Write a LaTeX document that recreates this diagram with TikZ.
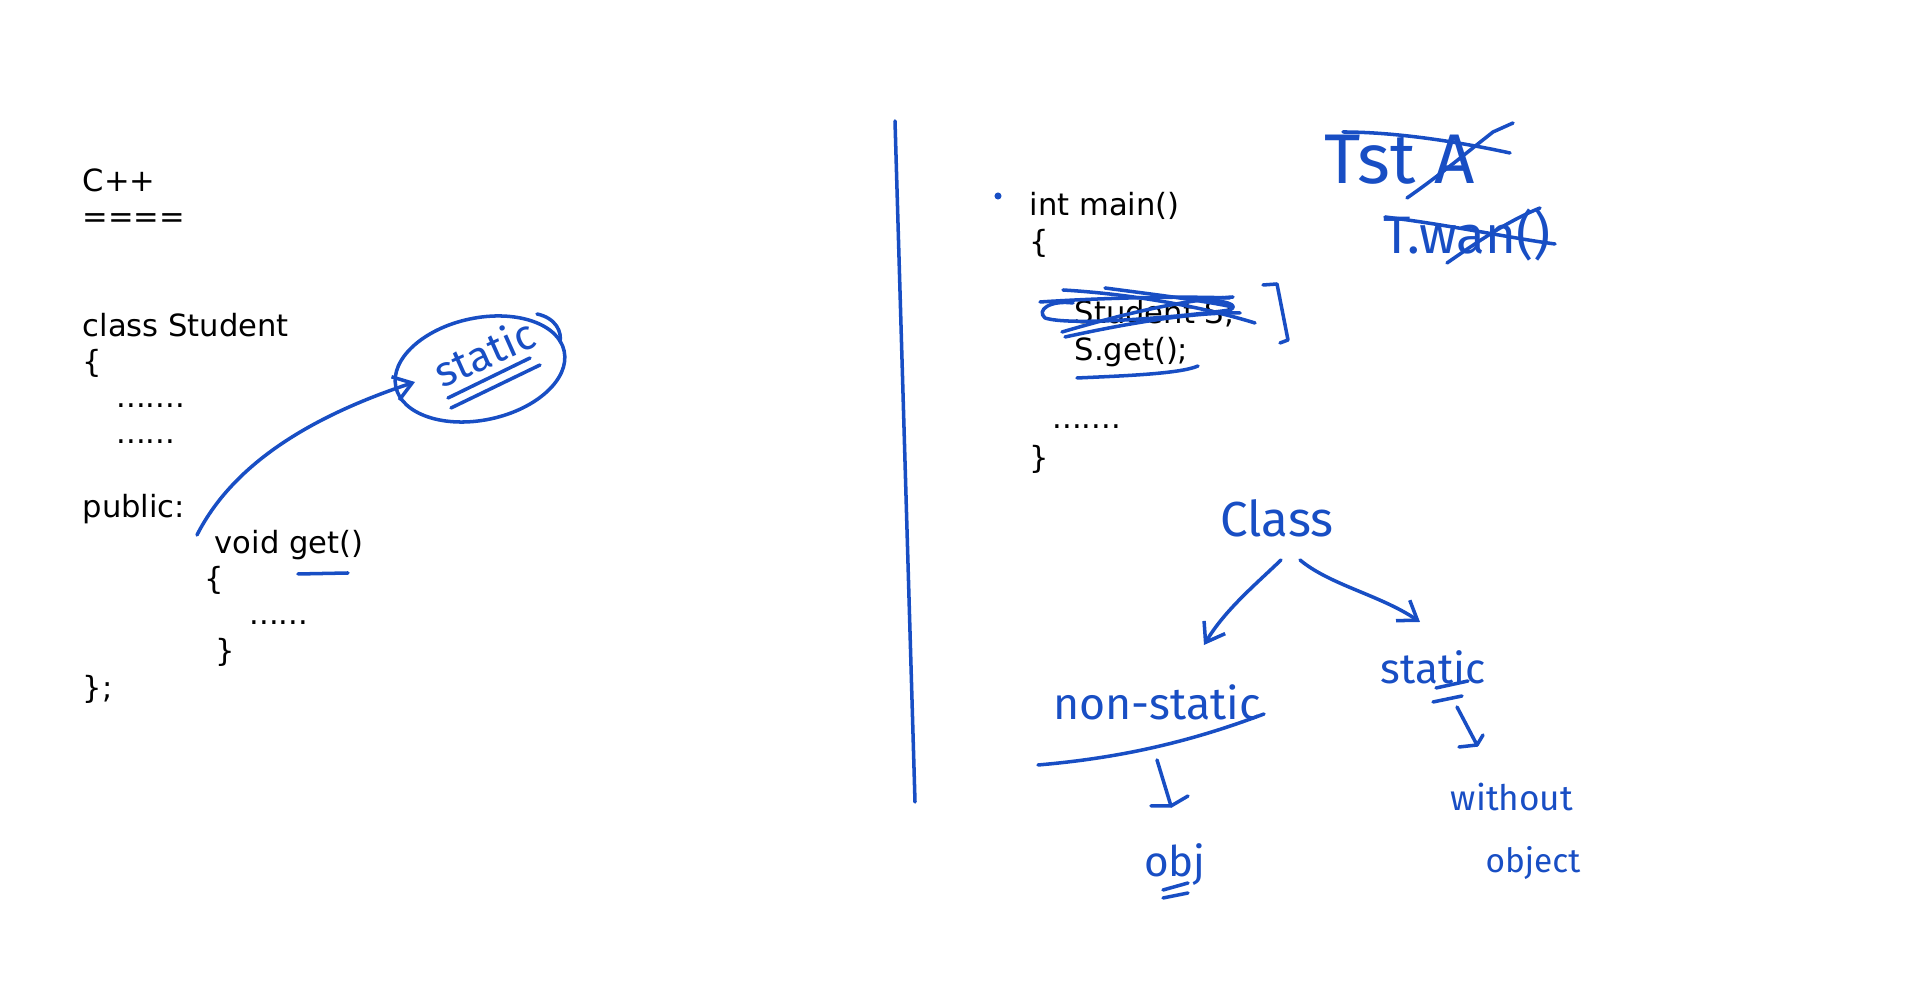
\documentclass[tikz,border=0pt]{standalone}
\usepackage{fontspec}
\setmainfont{DejaVu Sans}
\newfontfamily\handfont{Fira Sans}
\usetikzlibrary{arrows.meta,calc}
\definecolor{ink}{RGB}{24,78,196}

\tikzset{
  code/.style={anchor=west, inner sep=0pt, text height=1.6ex, text depth=.3ex,
    font=\fontsize{8.7}{9}\selectfont},
  pen/.style={draw=ink, line width=1pt, line cap=round, line join=round},
  hand/.style={text=ink, inner sep=1pt, font=\handfont\fontsize{12}{13}\selectfont},
  barb/.style={-{Straight Barb[length=5pt,width=7pt]}},
}

\begin{document}
\begin{tikzpicture}[x=0.01cm,y=-0.01cm]
  \useasboundingbox (0,0) rectangle (1920,1001);

  % Codi de la classe
  \node[code] (cpp)   at (82,179) {C++};
  \node[code] (rule)  at (82,215) {====};
  \node[code] (cls)   at (82,324) {class Student};
  \node[code] (open)  at (82,360) {\{};
  \node[code] (dotsa) at (116,395) {.......};
  \node[code] (dotsb) at (116,431) {......};
  \node[code] (pub)   at (82,505) {public:};
  \node[code] (get)   at (214,541) {void get()};
  \node[code] (gopen) at (204,577) {\{};
  \node[code] (gdots) at (249,612) {......};
  \node[code] (gend)  at (215,649) {\}};
  \node[code] (cend)  at (82,686) {\};};
  \draw[pen] (298,574) -- (348,573); % sota get

  % static encerclat
  \draw[pen, rotate around={12:(480,369)}] (480,369) ellipse (0.86cm and 0.51cm);
  \node[hand, rotate=24] (staticword) at (484,352) {static};
  \draw[pen] (448,398) -- (530,358);
  \draw[pen] (451,408) -- (540,365);
  \draw[pen] (537,314) .. controls (556,318) and (562,332) .. (560,342);
  \coordinate (pubtail) at (197,535);
  \coordinate (ringtip) at (415,382);
  \draw[pen, barb] (pubtail) .. controls (230,470) and (300,420) .. (ringtip);

  % Separador
  \draw[pen] (895,121) -- (915,802);

  % main
  \fill[ink] (998,196) circle (1pt);
  \node[code] (main)  at (1029,203) {int main()};
  \node[code] (mopen) at (1029,240) {\{};
  \node[code] (stud)  at (1074,311) {Student S;};
  \node[code] (sget)  at (1074,348) {S.get();};
  \node[code] (mdots) at (1052,416) {.......};
  \node[code] (mend)  at (1029,456) {\}};
  % ratllat
  \draw[pen] (1063,290) .. controls (1130,294) and (1200,306) .. (1255,323);
  \draw[pen] (1040,302) .. controls (1100,298) and (1180,296) .. (1230,298);
  \draw[pen] (1073,303) .. controls (1050,300) and (1036,310) .. (1045,318)
             .. controls (1070,326) and (1170,318) .. (1230,310) .. controls (1240,305) and (1225,300) .. (1200,300);
  \draw[pen] (1062,332) .. controls (1120,315) and (1180,300) .. (1233,297);
  \draw[pen] (1065,337) .. controls (1120,325) and (1190,312) .. (1240,313);
  \draw[pen] (1105,288) .. controls (1150,294) and (1200,300) .. (1233,307);
  \draw[pen] (1263,285) -- (1277,284) -- (1288,340) -- (1280,343); % claudator
  \draw[pen] (1077,378) .. controls (1120,376) and (1180,374) .. (1198,366);

  % notes de dalt
  \node[hand, font=\handfont\fontsize{20}{22}\selectfont] (tst) at (1400,160) {Tst A};
  \draw[pen] (1343,132) .. controls (1390,132) and (1450,140) .. (1510,153);
  \draw[pen] (1407,198) .. controls (1440,175) and (1470,150) .. (1493,132) -- (1513,123);
  \node[hand, font=\handfont\fontsize{15}{16}\selectfont] (twan) at (1467,235) {T.wan()};
  \draw[pen] (1385,217) .. controls (1450,225) and (1510,238) .. (1555,244);
  \draw[pen] (1447,263) .. controls (1480,240) and (1510,220) .. (1540,208);

  % arbre
  \node[hand, font=\handfont\fontsize{14}{15}\selectfont] (class) at (1277,518) {Class};
  \node[hand, font=\handfont\fontsize{12.7}{13}\selectfont] (nonstatic) at (1157,702) {non-static};
  \node[hand] (static) at (1433,667) {static};
  \node[hand] (obj) at (1175,865) {obj};
  \node[hand, font=\handfont\fontsize{10}{11}\selectfont] (without) at (1512,797) {without};
  \node[hand, font=\handfont\fontsize{9.5}{10}\selectfont] (object) at (1533,863) {object};

  \draw[pen, barb] ($(class)+(4,42)$) .. controls (1255,585) and (1225,610) .. ($(nonstatic)+(47,-57)$);
  \draw[pen, barb] ($(class)+(23,42)$) .. controls (1330,585) and (1380,595) .. ($(static)+(-13,-45)$);
  \draw[pen] (1038,765) .. controls (1120,758) and (1190,742) .. (1264,714);
  \draw[pen] (1436,688) -- (1468,681);
  \draw[pen] (1433,702) -- (1462,696);
  \draw[pen] ($(nonstatic)+(0,58)$) -- ($(obj)+(-4,-59)$) coordinate (nbot);
  \draw[pen] ($(nbot)+(-20,0)$) -- (nbot) -- ($(nbot)+(17,-10)$);
  \draw[pen] ($(static)+(24,40)$) -- ($(without)+(-35,-52)$) coordinate (sbot);
  \draw[pen] ($(sbot)+(-18,2)$) -- (sbot) -- ($(sbot)+(6,-10)$);
  \draw[pen] (1163,890) -- (1188,883);
  \draw[pen] (1163,898) -- (1188,893);
\end{tikzpicture}
\end{document}
